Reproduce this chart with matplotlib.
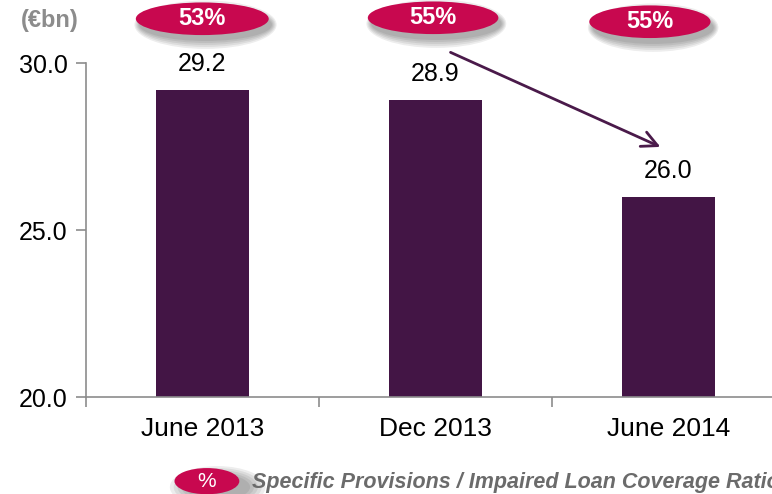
import numpy as np
import matplotlib.pyplot as plt
from matplotlib.patches import Ellipse
from matplotlib.transforms import blended_transform_factory

# Chart data
periods = ["June 2013", "Dec 2013", "June 2014"]
provisions = [29.2, 28.9, 26.0]
coverage = ["53%", "55%", "55%"]
y_ticks = [20.0, 25.0, 30.0]

BAR_COLOR = "#431545"
PILL_COLOR = "#C8084F"
AXIS_GRAY = "#8c8c8c"


def pill(ax, trans, x, y, w, h, label, size, weight="bold"):
    """Draw a crimson ellipse with a soft shadow and white text."""
    for k in range(5):
        ax.add_patch(Ellipse((x + 0.014, y - 0.012), w + 0.01 * k,
                             h + 0.008 * k, transform=trans,
                             color="#000000", alpha=0.07, lw=0,
                             clip_on=False, zorder=4))
    ax.add_patch(Ellipse((x, y), w, h, transform=trans, color=PILL_COLOR,
                         lw=0, clip_on=False, zorder=5))
    ax.text(x, y, label, transform=trans, ha="center", va="center",
            color="white", fontsize=size, fontweight=weight, zorder=6)


def main() -> None:
    """Build the provisions bar chart and save it."""
    plt.rcParams["font.family"] = ["Liberation Sans", "DejaVu Sans"]

    fig = plt.figure(figsize=(7.72, 4.94), dpi=100)
    ax = fig.add_axes([0.111, 0.196, 0.906, 0.676])

    x = np.arange(len(periods))
    ax.bar(x, provisions, width=0.40, color=BAR_COLOR, zorder=2)

    # Value labels above the bars
    for xi, v in zip(x, provisions):
        ax.annotate(f"{v:.1f}", (xi, v), xytext=(0, 10),
                    textcoords="offset points", ha="center", va="bottom",
                    fontsize=18, color="black")

    ax.set_xlim(-0.5, 2.5)
    ax.set_ylim(20, 30)
    ax.set_yticks(y_ticks)
    ax.set_yticklabels([f"{t:.1f}" for t in y_ticks], fontsize=18)
    ax.set_xticks(x)
    ax.set_xticklabels(periods, fontsize=19)
    ax.set_xticks(np.arange(-0.5, 3.0, 1.0), minor=True)
    ax.tick_params(axis="x", which="major", length=0, pad=14)
    ax.tick_params(axis="x", which="minor", length=7, color=AXIS_GRAY,
                   width=1.2)
    ax.tick_params(axis="y", length=7, color=AXIS_GRAY, width=1.2, pad=6)

    for side in ["top", "right"]:
        ax.spines[side].set_visible(False)
    for side in ["left", "bottom"]:
        ax.spines[side].set_color(AXIS_GRAY)
        ax.spines[side].set_linewidth(1.2)

    # Unit label
    fig.text(0.027, 0.958, "(\u20acbn)", fontsize=17, fontweight="bold",
             color=AXIS_GRAY, va="center", ha="left")

    # Coverage ratio pills above each bar
    trans = blended_transform_factory(ax.transData, fig.transFigure)
    pill_dx = [0.0, -0.01, -0.08]
    pill_y = [0.962, 0.964, 0.956]
    pill_w = [0.57, 0.56, 0.52]
    for xi, lab, dx, py, pw in zip(x, coverage, pill_dx, pill_y, pill_w):
        pill(ax, trans, xi + dx, py, pw, 0.066, lab, 17)

    # Downward trend arrow
    ax.annotate("", xy=(1.976, 27.46), xytext=(1.054, 30.36),
                arrowprops=dict(arrowstyle="->", color="#4a1a4a", lw=2,
                                mutation_scale=28),
                annotation_clip=False, zorder=7)

    # Legend pill and caption
    pill(ax, fig.transFigure, 0.268, 0.026, 0.084, 0.053, "%", 15,
         weight="normal")
    fig.text(0.326, 0.024, "Specific Provisions / Impaired Loan Coverage Ratio",
             fontsize=15.5, fontweight="bold", fontstyle="italic",
             color="#6b6b6b", va="center", ha="left")

    fig.savefig("out.png", dpi=100)


if __name__ == "__main__":
    main()
